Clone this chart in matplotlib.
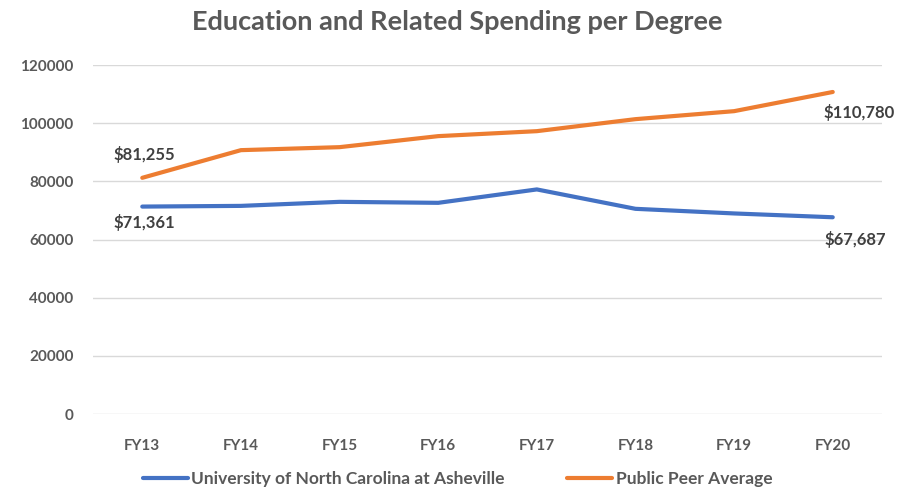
import matplotlib.pyplot as plt

years = ['FY13', 'FY14', 'FY15', 'FY16', 'FY17', 'FY18', 'FY19', 'FY20']
unca = [71361, 71600, 72990, 72650, 77260, 70590, 69000, 67687]
peer = [81255, 90770, 91800, 95590, 97300, 101430, 104180, 110780]
y_ticks = [0, 20000, 40000, 60000, 80000, 100000, 120000]

BLUE = '#4472C4'
ORANGE = '#ED7D31'
TEXT = '#595959'

plt.rcParams['font.family'] = ['Lato', 'DejaVu Sans']

fig = plt.figure(figsize=(9.15, 4.9), dpi=100)
ax = fig.add_axes([0.1016, 0.155, 0.8624, 0.712])

x = list(range(len(years)))
ax.plot(x, unca, color=BLUE, lw=3, solid_capstyle='round',
        label='University of North Carolina at Asheville')
ax.plot(x, peer, color=ORANGE, lw=3, solid_capstyle='round',
        label='Public Peer Average')

ax.set_xlim(-0.5, len(years) - 0.5)
ax.set_ylim(0, 120000)
ax.set_yticks(y_ticks)
ax.set_yticklabels([str(v) for v in y_ticks])
ax.set_xticks(x)
ax.set_xticklabels(years)
ax.yaxis.grid(True, color='#D9D9D9', lw=1)
ax.set_axisbelow(True)
for s in ax.spines.values():
    s.set_visible(False)
ax.tick_params(length=0, labelsize=11, labelcolor=TEXT)
ax.tick_params(axis='y', pad=14)
ax.tick_params(axis='x', pad=18)
for lab in ax.get_xticklabels() + ax.get_yticklabels():
    lab.set_fontweight('bold')

lbl = dict(fontsize=12, fontweight='bold', color='#404040', ha='center', va='center')
ax.annotate(f'${peer[0]:,}', (x[0], peer[0]), xytext=(2, 23), textcoords='offset pixels', **lbl)
ax.annotate(f'${unca[0]:,}', (x[0], unca[0]), xytext=(2, -16), textcoords='offset pixels', **lbl)
ax.annotate(f'${peer[-1]:,}', (x[-1], peer[-1]), xytext=(26, -21), textcoords='offset pixels', **lbl)
ax.annotate(f'${unca[-1]:,}', (x[-1], unca[-1]), xytext=(23, -22), textcoords='offset pixels', **lbl)

fig.text(0.5, 0.955, 'Education and Related Spending per Degree', ha='center', va='center',
         fontsize=19.5, fontweight='bold', color=TEXT)

leg = fig.legend(loc='center', bbox_to_anchor=(0.5, 0.022), ncol=2, frameon=False,
                 fontsize=12.5, handlelength=2.6, handletextpad=0.2, columnspacing=3.6)
for t in leg.get_texts():
    t.set_color(TEXT)
    t.set_fontweight('bold')

fig.savefig('out.png', dpi=100)
